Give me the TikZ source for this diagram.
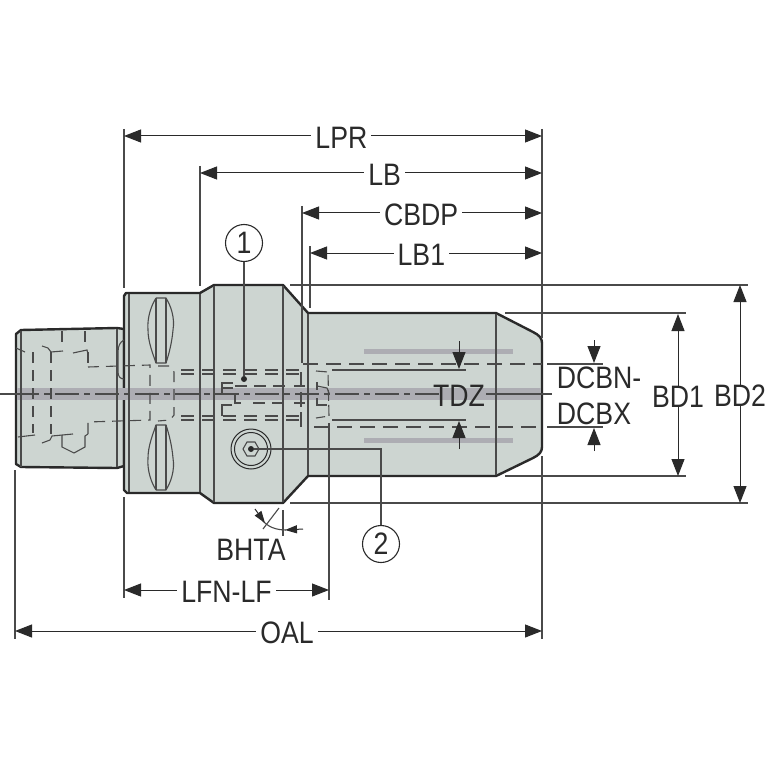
\documentclass[tikz,border=0pt]{standalone}
\usepackage{fontspec}
\setmainfont[FakeStretch=0.86]{Liberation Sans}
\usetikzlibrary{arrows.meta}
\definecolor{body}{HTML}{CDD5D1}
\definecolor{band}{HTML}{ADADB3}
\definecolor{ink}{HTML}{2A2A2A}
\tikzset{
  x=1pt,y=-1pt,
  outline/.style={draw=ink,line width=2.4pt,line join=round,fill=body},
  thin line/.style={draw=ink!85,line width=1.1pt},
  hid/.style={draw=ink!85,line width=1.1pt,dash pattern=on 11pt off 7pt},
  dimline/.style={draw=ink,line width=1pt,{Triangle[length=17pt,width=13pt]}-{Triangle[length=17pt,width=13pt]}},
  onearrow/.style={draw=ink,line width=1pt,-{Triangle[length=17pt,width=13pt]}},
  lbl/.style={font=\fontsize{31}{31}\selectfont,text=ink,inner sep=2pt},
  gaplbl/.style={lbl,fill=white,inner xsep=4pt,inner ysep=0pt,yshift=-1.5pt},
  balloon/.style={circle,draw=ink,line width=1.1pt,fill=white,minimum size=37pt,inner sep=0pt,font=\fontsize{31}{31}\selectfont,text=ink},
}
\begin{document}
\begin{tikzpicture}
\useasboundingbox (0,0) rectangle (767,767);
\fill[white] (0,0) rectangle (767,767);
% body
\path[outline] (124,329) -- (117,328) -- (21,330) -- (16,334) -- (16,464) -- (21,467) -- (117,468) -- (124,466) -- cycle;
\path[outline] (126,293) -- (200,293) -- (214,285) -- (283,285) -- (308,313) -- (496,313)
  -- (533,332) .. controls (539,335) and (542,338) .. (542,343) -- (542,447)
  .. controls (542,452) and (539,455) .. (533,458) -- (496,476) -- (308,476) -- (283,503)
  -- (214,503) -- (200,493) -- (127,493) -- (124,490) -- (124,296) -- cycle;
% band and gray lines
\fill[band] (17,388) rectangle (541,400);
\fill[band] (364,349) rectangle (513,354);
\fill[band] (364,438) rectangle (513,443);
% vertical body lines
\foreach \xa/\ya/\yb in {21/331/467,117/329/467,129/294/492,200/294/492,214/286/502,283/286/502,308/314/475,496/314/475}
  \draw[thin line] (\xa,\ya) -- (\xa,\yb);
% lozenges
\foreach \ya/\yb/\dir in {298/363/1,490/425/-1}{
  \draw[thin line] (156,\ya) -- (166,\ya) .. controls (171,{\ya+\dir*8}) and (175,{\ya+\dir*20}) .. (173,{\ya+\dir*32}) .. controls (172,{\ya+\dir*44}) and (169,{\ya+\dir*56}) .. (166,\yb) -- (156,\yb)
     .. controls (153,{\ya+\dir*56}) and (148,{\ya+\dir*44}) .. (148,{\ya+\dir*32}) .. controls (147,{\ya+\dir*20}) and (151,{\ya+\dir*8}) .. (156,\ya);
  \draw[thin line] (156,\ya) -- (156,\yb);
  \draw[thin line] (166,\ya) -- (166,\yb);
}
% hidden lines, left part
\draw[thin line] (124,340) .. controls (120,342) and (118,346) .. (118,352) -- (118,372) .. controls (118,376) and (120,379) .. (124,379);
\draw[hid] (33,352) -- (33,433);
\draw[hid] (51,352) -- (51,434);
\draw[hid] (88,352) -- (88,367);
\draw[hid] (88,367) -- (150,365) -- (150,420) -- (88,422) -- (88,434);
\draw[hid] (62,331) -- (62,343);
\draw[hid] (85,331) -- (85,343);
\draw[thin line] (16,348) -- (25,352);
\draw[thin line] (42,346) -- (48,348) -- (51,352) -- (63,351);
\draw[thin line] (73,353) -- (87,350) -- (88,354);
\draw[thin line] (18,437) -- (35,435);
\draw[thin line] (42,443) -- (50,440) -- (52,436) -- (73,434);
\draw[thin line] (62,435) -- (62,447) -- (74,453) -- (85,447) -- (85,436) -- (88,434);
\draw[hid] (158,366) -- (169,366) -- (174,372) -- (174,415) -- (170,420) -- (158,421);
% double hidden lines
\foreach \yy in {370,374,416,420}
  \draw[hid,dash pattern=on 13pt off 8pt] (181,\yy) -- (300,\yy);
% centre line
\draw[thin line] (0,394) -- (15,394);
\draw[hid,dash pattern=on 24pt off 5pt on 6pt off 5pt] (15,394) -- (440,394);
\draw[thin line] (486,394) -- (552,394);
% centre details
\draw[thin line] (233,383) -- (222,383) -- (222,394) -- (233,394);
\draw[thin line] (222,388) -- (233,388);
\draw[thin line] (235,394) -- (235,403) -- (241,403);
\draw[thin line] (232,405) -- (222,405) -- (222,416);
\draw[hid,dash pattern=on 12pt off 7pt] (235,386) -- (288,386);
\draw[hid,dash pattern=on 12pt off 7pt] (253,403) -- (288,403);
\draw[hid,dash pattern=on 11pt off 7pt] (294,386) -- (312,386);
\draw[hid,dash pattern=on 11pt off 7pt] (294,403) -- (312,403);
\draw[hid,dash pattern=on 15pt off 5pt] (301,372) -- (301,428);
% right box
\draw[thin line,dash pattern=on 11pt off 4pt] (316,371) -- (328,372) -- (329,416) -- (316,418);
\draw[thin line] (317,386) -- (327,388) -- (329,393);
\draw[thin line] (317,405) -- (327,405);
\draw[thin line] (317,382) -- (317,390);
\draw[thin line] (317,398) -- (317,406);
% long hidden lines
\draw[hid,dash pattern=on 15pt off 8pt] (303,364) -- (542,364);
\draw[hid,dash pattern=on 15pt off 8pt] (314,427) -- (542,427);
% TDZ leaders
\draw[thin line] (332,370) -- (466,370);
\draw[thin line] (332,420) -- (466,420);
% screw
\node[circle,draw=ink,line width=1pt,minimum size=40pt,inner sep=0pt] (screwA) at (251,449) {};
\node[circle,draw=ink,line width=1pt,minimum size=33pt,inner sep=0pt] (screwB) at (251,449) {};
\draw[thin line] (259,449) -- (255,456) -- (247,456) -- (243,449) -- (247,442) -- (255,442) -- cycle;
\node[circle,fill=ink,minimum size=6pt,inner sep=0pt] (screwdot) at (251,449) {};
% balloons
\node[balloon] (b1) at (244,243) {1};
\node[circle,fill=ink,minimum size=6pt,inner sep=0pt] (dot1) at (244,379) {};
\draw[thin line] (b1) -- (dot1);
\node[balloon] (b2) at (381,544) {2};
\draw[thin line] (b2) |- (screwdot);
% extension lines
\foreach \xa/\ya/\yb in {124/129/288,200/166/286,302/206/363,310/246/308,542/129/338,15/470/639,124/497/598,329/423/600,542/456/639}
  \draw[thin line] (\xa,\ya) -- (\xa,\yb);
\foreach \ya/\xa/\xb in {285/290/748,313/505/686,476/505/686,503/290/748,364/547/603,427/547/603}
  \draw[thin line] (\xa,\ya) -- (\xb,\ya);
% dimensions
\draw[dimline] (124,136) -- node[gaplbl,pos=.52] (lpr) {LPR} (542,136);
\draw[dimline] (200,173) -- node[gaplbl,pos=.54] (lb) {LB} (542,173);
\draw[dimline] (302,213) -- node[gaplbl,pos=.496] (cbdp) {CBDP} (542,213);
\draw[dimline] (310,253) -- node[gaplbl,pos=.48] (lbo) {LB1} (542,253);
\draw[dimline] (15,631) -- node[gaplbl,pos=.516] (oal) {OAL} (542,631);
\draw[dimline] (124,590) -- node[gaplbl,pos=.5] (lfn) {LFN-LF} (329,590);
\draw[dimline] (678,314) -- node[gaplbl] (bda) {BD1} (678,476);
\draw[dimline] (740,285) -- node[gaplbl] (bdb) {BD2} (740,503);
% TDZ and DCB
\node[lbl] (tdz) at (459,396) {TDZ};
\draw[onearrow] (459,341) -- (459,369);
\draw[onearrow] (459,449) -- (459,421);
\draw[onearrow] (594,340) -- (594,363);
\draw[onearrow] (594,451) -- (594,428);
\node[lbl,inner sep=0pt] (dcbn) at (599,378) {DCBN-};
\node[lbl,inner sep=0pt] (dcbx) at (594,414) {DCBX};
% BHTA
\draw[thin line] (283,510) -- (283,536);
\draw[thin line] (279,508) -- (263,529);
\draw[thin line] (262,520) .. controls (268,527) and (276,530) .. (286,530);
\draw[draw=ink,line width=1pt,-{Triangle[length=12pt,width=8pt]}] (255,509) -- (265,523);
\draw[draw=ink,line width=1pt,-{Triangle[length=12pt,width=8pt]}] (303,529) -- (285,530);
\node[lbl,inner sep=0pt] (bhta) at (251,550) {BHTA};
\end{tikzpicture}
\end{document}
